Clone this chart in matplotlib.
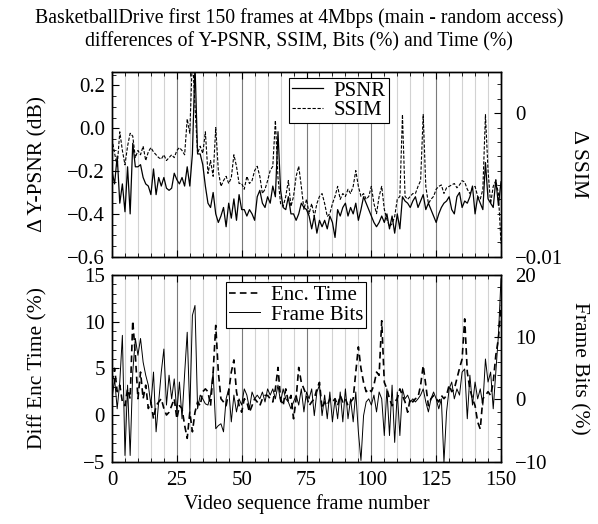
import numpy as np
import matplotlib
matplotlib.use("Agg")
import matplotlib.pyplot as plt
from matplotlib.ticker import MultipleLocator

plt.rcParams['font.family'] = ['Liberation Serif', 'DejaVu Serif']
plt.rcParams['mathtext.fontset'] = 'stix'

frames = np.arange(151)

# top panel: differences of Y-PSNR (dB) and SSIM
psnr = [-0.20, -0.26, -0.13, -0.35, -0.26, -0.39, -0.18, -0.40, -0.07, -0.18,
        -0.18, -0.17, -0.23, -0.26, -0.27, -0.31, -0.19, -0.31, -0.23, -0.27,
        -0.23, -0.28, -0.29, -0.28, -0.21, -0.24, -0.26, -0.23, -0.27, -0.18,
        -0.27, -0.12, 0.30, -0.12, -0.12, -0.17, -0.27, -0.35, -0.37, -0.30,
        -0.40, -0.44, -0.41, -0.37, -0.46, -0.35, -0.42, -0.33, -0.43, -0.31,
        -0.38, -0.38, -0.41, -0.38, -0.40, -0.43, -0.32, -0.29, -0.35, -0.37,
        -0.32, -0.35, -0.27, -0.32, -0.016, -0.29, -0.37, -0.38, -0.32, -0.40,
        -0.40, -0.43, -0.40, -0.35, -0.37, -0.38, -0.41, -0.47, -0.41, -0.49,
        -0.43, -0.46, -0.43, -0.47, -0.41, -0.44, -0.51, -0.38, -0.41, -0.37,
        -0.35, -0.41, -0.37, -0.40, -0.35, -0.43, -0.38, -0.32, -0.35, -0.38,
        -0.41, -0.44, -0.46, -0.44, -0.41, -0.44, -0.40, -0.47, -0.41, -0.49,
        -0.40, -0.47, -0.32, -0.34, -0.35, -0.37, -0.34, -0.32, -0.37, -0.34,
        -0.31, -0.38, -0.35, -0.38, -0.41, -0.44, -0.40, -0.37, -0.35, -0.34,
        -0.32, -0.38, -0.40, -0.32, -0.30, -0.37, -0.34, -0.35, -0.32, -0.27,
        -0.40, -0.32, -0.35, -0.38, -0.16, -0.33, -0.35, -0.37, -0.24, -0.36,
        -0.25]
ssim = [-0.0018, -0.0028, -0.0037, -0.0013, -0.0026, -0.0036, -0.0023, -0.0014, -0.0016, -0.0031,
        -0.0026, -0.0029, -0.0023, -0.0033, -0.0027, -0.0024, -0.0027, -0.0029, -0.0031, -0.0032,
        -0.0029, -0.0033, -0.0031, -0.0029, -0.0031, -0.0026, -0.0024, -0.0026, -0.0029, -0.0004,
        -0.0014, 0.0040, 0.0005, -0.0028, -0.0023, -0.0028, -0.0013, -0.0042, -0.0033, -0.0044,
        -0.0010, -0.0040, -0.0051, -0.0047, -0.0044, -0.0049, -0.0045, -0.0029, -0.0037, -0.0049,
        -0.0049, -0.0053, -0.0044, -0.0049, -0.0047, -0.0040, -0.0037, -0.0044, -0.0056, -0.0053,
        -0.0047, -0.0040, -0.0037, -0.0005, -0.0045, -0.0063, -0.0065, -0.0058, -0.0047, -0.0065,
        -0.0058, -0.0044, -0.0037, -0.0051, -0.0067, -0.0060, -0.0070, -0.0063, -0.0072, -0.0063,
        -0.0058, -0.0056, -0.0063, -0.0072, -0.0070, -0.0063, -0.0058, -0.0051, -0.0060, -0.0056,
        -0.0058, -0.0053, -0.0056, -0.0051, -0.0040, -0.0051, -0.0058, -0.0056, -0.0060, -0.0058,
        -0.0051, -0.0063, -0.0070, -0.0058, -0.0051, -0.0067, -0.0074, -0.0079, -0.0077, -0.0072,
        -0.0060, -0.0058, -0.0001, -0.0058, -0.0060, -0.0058, -0.0056, -0.0056, -0.0051, -0.0047,
        -0.0001, -0.0051, -0.0063, -0.0060, -0.0058, -0.0053, -0.0051, -0.0050, -0.0056, -0.0052,
        -0.0051, -0.0050, -0.0049, -0.0052, -0.0050, -0.0047, -0.0048, -0.0053, -0.0056, -0.0052,
        -0.0051, -0.0058, -0.0060, -0.0053, -0.0001, -0.0040, -0.0063, -0.0051, -0.0047, -0.0056,
        -0.0091]

# bottom panel: encoding time and frame bits differences (%)
enc_time = [3.5, 5.0, 2.5, 3.2, 1.4, 1.0, 2.8, 1.75, 10.1, 6.4,
            1.75, 4.6, 1.75, 3.2, 0.7, 1.4, -0.4, 1.0, 1.4, 1.75,
            0.7, 0.0, 0.3, 1.0, 1.75, -0.4, 1.0, 0.7, -1.1, -2.5,
            0.3, -1.8, 0.3, 1.4, 1.0, 2.5, 2.8, 2.5, 1.0, 4.6,
            9.6, 4.6, 1.75, 1.4, 1.0, 2.5, 4.6, 5.9, 2.5, 1.0,
            0.3, 1.75, 1.4, 0.3, 1.0, 1.75, 1.4, 1.0, 1.75, 2.1,
            2.1, 1.75, 1.4, 2.8, 5.1, 1.75, 1.0, 2.8, 1.4, 2.1,
            -0.4, 1.75, 5.1, 3.5, 2.8, 2.1, 1.0, 1.4, 1.75, 2.8,
            3.5, 0.7, 1.4, 1.0, 1.75, 1.4, 1.75, 1.0, 2.1, 1.4,
            1.75, 1.0, 1.4, 1.75, 4.6, 7.3, 5.0, 3.5, 2.5, 2.8,
            2.5, 3.2, 4.6, 4.25, 10.1, 3.5, 2.8, 1.75, 1.0, 1.4,
            1.75, 2.8, 2.1, 1.4, 0.3, 1.75, 1.4, 1.75, 1.9, 3.2,
            5.3, 3.2, 1.0, 1.75, 2.1, 1.75, 1.4, 2.1, 1.75, 2.1,
            3.2, 2.5, 2.8, 3.9, 5.0, 6.0, 10.3, 4.6, 2.8, 1.75,
            1.0, -0.75, -1.5, 1.75, 2.1, 2.5, 2.1, 3.5, 6.4, 8.2,
            11.75]
frame_bits = [0.1, 3.3, -1.5, 2.8, 10.3, -9.0, 2.3, -9.0, 4.4, 9.8,
              7.1, 9.8, 6.0, 3.9, 2.3, -0.9, 4.4, -5.2, -0.4, 4.4,
              8.1, -0.9, 3.9, 0.1, 3.3, -2.0, 2.8, -3.1, 4.1, 10.8,
              -2.0, 13.5, 15.1, -1.5, 0.7, 0.1, -0.7, -0.9, 0.7, 4.4,
              -4.7, -4.2, -3.9, -5.2, 0.1, 1.7, -3.6, 0.7, -2.0, 0.1,
              -0.9, 1.7, 0.7, -1.5, 1.2, 0.1, 0.7, 0.1, 1.2, -0.4,
              1.7, 0.7, 1.7, 0.1, 2.3, -0.4, 1.7, 0.1, -0.4, -1.5,
              -0.4, 0.7, -0.9, 1.7, -2.0, 1.2, 0.1, 1.7, -2.6, 1.2,
              2.3, -2.6, 0.7, -3.1, 1.2, -3.6, 0.1, -3.1, 1.2, -3.6,
              1.7, -3.1, 0.1, -3.6, 1.2, -5.2, -9.8, -2.6, -0.4, 0.1,
              -0.9, 0.7, -2.0, 1.2, 0.1, -5.8, 1.7, -5.8, 2.3, -6.9,
              1.2, -5.8, 1.7, 0.1, 0.7, -0.4, 0.1, -0.4, 0.1, 0.7,
              1.7, -0.4, -2.0, 0.1, 1.2, 0.1, -1.5, 0.1, -10.1, -2.0,
              1.7, 2.8, 0.1, 1.7, 0.7, 4.4, 4.9, -3.1, 3.9, -0.9,
              2.8, 0.1, 1.7, -0.9, 6.5, 2.8, 4.4, -1.5, 4.4, 10.3,
              19.4]

fig = plt.figure(figsize=(5.98, 5.24), dpi=100)
ax1 = fig.add_axes([0.1873, 0.5101, 0.6505, 0.3534])
ax2 = fig.add_axes([0.1873, 0.1189, 0.6505, 0.3563])

TICK_FS = 15
LAB_FS = 15.5


def style_x(ax, labels):
    ax.set_xlim(0, 150)
    ax.xaxis.set_major_locator(MultipleLocator(25))
    ax.xaxis.set_minor_locator(MultipleLocator(5))
    for f in range(5, 150, 5):
        col = '#7a7a7a' if f % 25 == 0 else '#d2d2d2'
        ax.axvline(f, color=col, lw=0.8, zorder=0)
    ax.tick_params(axis='x', which='both', direction='in', top=True, bottom=True,
                   labelbottom=labels, labelsize=TICK_FS, pad=7)
    ax.tick_params(axis='x', which='major', length=5)
    ax.tick_params(axis='x', which='minor', length=3)


def style_y(ax, major, minor, side):
    ax.yaxis.set_major_locator(MultipleLocator(major))
    ax.yaxis.set_minor_locator(MultipleLocator(minor))
    ax.tick_params(axis='y', which='both', direction='in', labelsize=TICK_FS,
                   left=(side == 'left'), right=(side == 'right'),
                   labelleft=(side == 'left'), labelright=(side == 'right'),
                   pad=(5 if side == 'left' else 10))
    ax.tick_params(axis='y', which='major', length=5)
    ax.tick_params(axis='y', which='minor', length=3)


def boxed_legend(ax, handles, labels, anchor):
    leg = ax.legend(handles, labels, loc='upper left', bbox_to_anchor=anchor,
                    fontsize=TICK_FS, frameon=True, fancybox=False, borderpad=0.15,
                    handlelength=1.5, labelspacing=0.0, handletextpad=0.5,
                    borderaxespad=0, framealpha=1)
    leg.get_frame().set_edgecolor('black')
    leg.get_frame().set_linewidth(0.8)
    return leg


# top panel
style_x(ax1, False)
ax1.plot(frames, psnr, color='black', lw=0.9, label='PSNR')
ax1.set_ylim(-0.6, 0.265)
style_y(ax1, 0.2, 0.05, 'left')
ax1.set_ylabel('Δ Y-PSNR (dB)', fontsize=LAB_FS)
ax1.yaxis.set_label_coords(-0.167, 0.5)

ax1r = ax1.twinx()
ax1r.plot(frames, ssim, color='black', lw=0.8, ls=(0, (3, 1.5)), label='SSIM')
ax1r.set_ylim(-0.01, 0.0029)
style_y(ax1r, 0.01, 0.001, 'right')
ax1r.set_yticks([-0.01, 0])
ax1r.set_yticklabels(['−0.01', '0'])
ax1r.set_ylabel('Δ SSIM', fontsize=LAB_FS, rotation=270, va='center')
ax1r.yaxis.set_label_coords(1.2, 0.5)

h1, l1 = ax1.get_legend_handles_labels()
h2, l2 = ax1r.get_legend_handles_labels()
boxed_legend(ax1r, h1 + h2, l1 + l2, (0.455, 0.965))

# bottom panel
style_x(ax2, True)
ax2.plot(frames, enc_time, color='black', lw=1.2, ls=(0, (4, 2.5)), label='Enc. Time')
ax2.set_ylim(-5, 15)
style_y(ax2, 5, 1, 'left')
ax2.set_ylabel('Diff Enc Time (%)', fontsize=LAB_FS)
ax2.yaxis.set_label_coords(-0.167, 0.5)
ax2.set_xlabel('Video sequence frame number', fontsize=14.5, labelpad=3)

ax2r = ax2.twinx()
ax2r.plot(frames, frame_bits, color='black', lw=0.7, label='Frame Bits')
ax2r.set_ylim(-10, 20)
style_y(ax2r, 10, 2, 'right')
ax2r.set_ylabel('Frame Bits (%)', fontsize=LAB_FS, rotation=270, va='center')
ax2r.yaxis.set_label_coords(1.2, 0.5)

h1, l1 = ax2.get_legend_handles_labels()
h2, l2 = ax2r.get_legend_handles_labels()
boxed_legend(ax2r, h1 + h2, l1 + l2, (0.293, 0.96))

for ax in (ax1, ax2, ax1r, ax2r):
    for sp in ax.spines.values():
        sp.set_linewidth(1.0)

fig.text(0.5, 0.965, 'BasketballDrive first 150 frames at 4Mbps (main - random access)',
         ha='center', va='center', fontsize=14.2)
fig.text(0.5, 0.92, 'differences of Y-PSNR, SSIM, Bits (%) and Time (%)',
         ha='center', va='center', fontsize=14.2)

fig.savefig('out.png', dpi=100)
